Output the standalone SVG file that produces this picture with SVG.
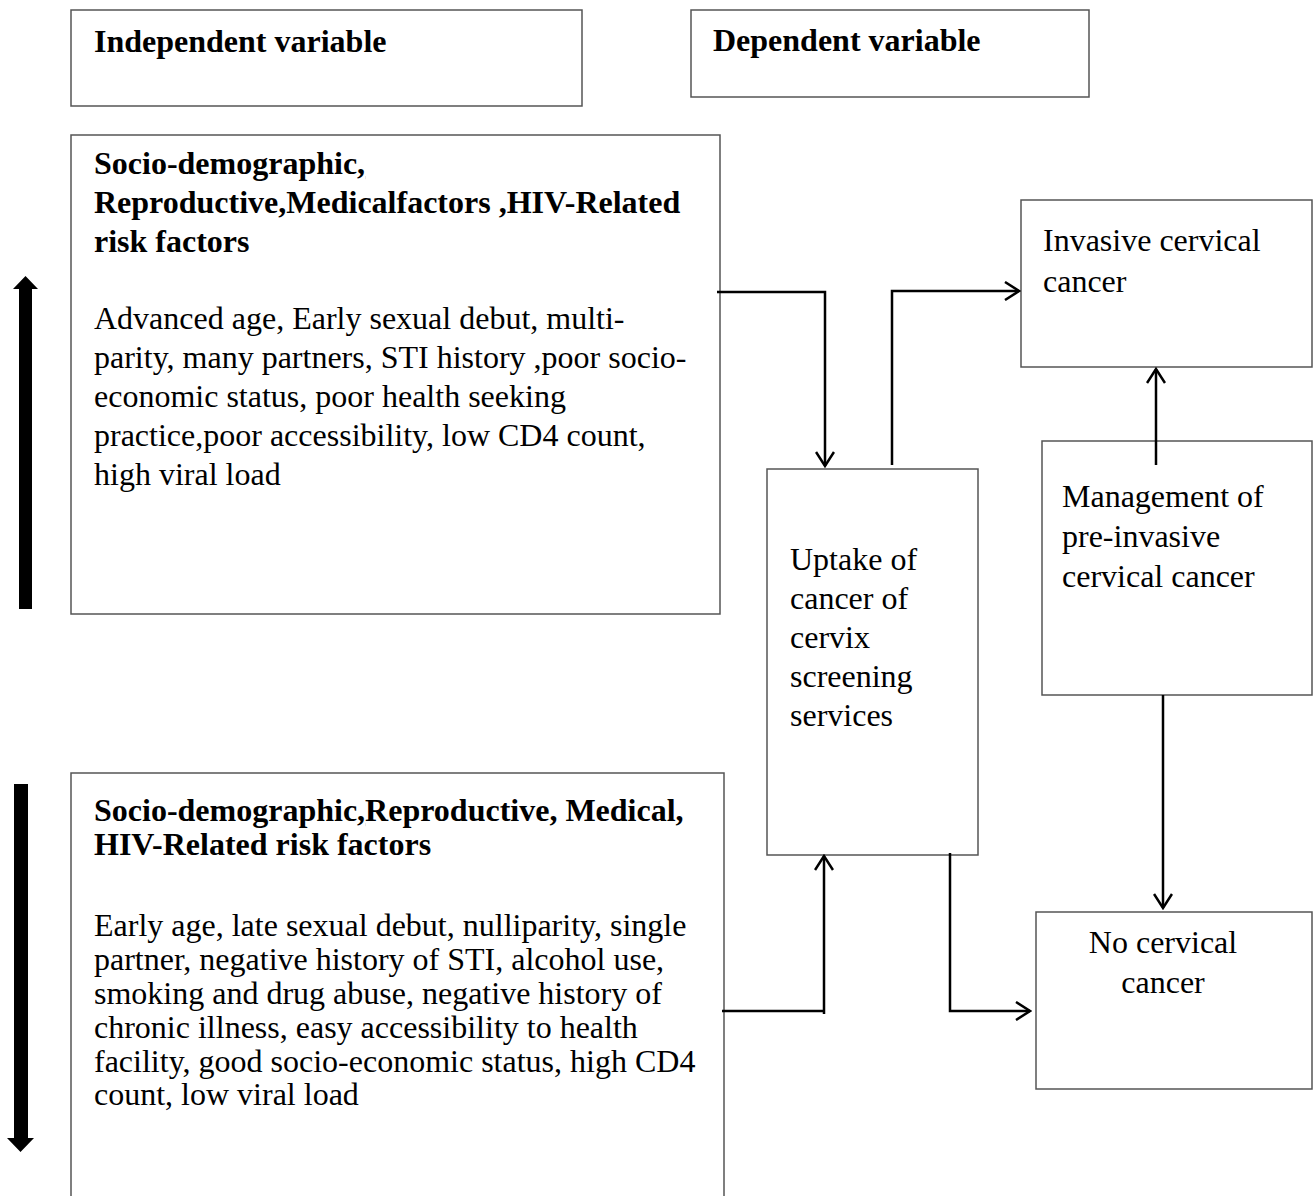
<svg xmlns="http://www.w3.org/2000/svg" width="1314" height="1196" viewBox="0 0 1314 1196">
<style>
.box{fill:#fff;stroke:#555;stroke-width:1.5}
text{font-family:"Liberation Serif","Times New Roman",serif;font-size:32px;fill:#000}
.b{font-weight:bold}
.c{fill:none;stroke:#000;stroke-width:2.5}
.u{text-decoration:underline}
</style>
<defs>
<marker id="ah" viewBox="0 0 20 20" refX="18" refY="10" markerWidth="20" markerHeight="20" markerUnits="userSpaceOnUse" orient="auto">
<path d="M4,1 L18,10 L4,19" fill="none" stroke="#000" stroke-width="2.5"/>
</marker>
</defs>
<g id="n-indep"><rect class="box" x="71" y="10" width="511" height="96"/><text class="b" x="94" y="52">Independent variable</text></g>
<g id="n-dep"><rect class="box" x="691" y="10" width="398" height="87"/><text class="b" x="713" y="51">Dependent variable</text></g>
<g id="n-risk1"><rect class="box" x="71" y="135" width="649" height="479"/>
<text class="b" x="94" y="174">Socio-demographic<tspan class="u">,</tspan></text>
<text class="b" x="94" y="213">Reproductive,Medicalfactors ,HIV-Related</text>
<text class="b" x="94" y="252">risk factors</text>
<text x="94" y="329">Advanced age, Early sexual debut, multi-</text>
<text x="94" y="368">parity, many partners, STI history ,poor socio-</text>
<text x="94" y="407">economic status, poor health seeking</text>
<text x="94" y="446">practice,poor accessibility, low CD4 count,</text>
<text x="94" y="485">high viral load</text>
</g>
<g id="n-risk2"><rect class="box" x="71" y="773" width="653" height="440"/>
<text class="b" x="94" y="821">Socio-demographic<tspan class="u">,</tspan>Reproductive, Medical<tspan class="u">,</tspan></text>
<text class="b" x="94" y="855">HIV-Related risk factors</text>
<text x="94" y="936">Early age, late sexual debut, nulliparity, single</text>
<text x="94" y="970">partner, negative history of STI, alcohol use,</text>
<text x="94" y="1004">smoking and drug abuse, negative history of</text>
<text x="94" y="1038">chronic illness, easy accessibility to health</text>
<text x="94" y="1072">facility, good socio-economic status, high CD4</text>
<text x="94" y="1105">count, low viral load</text>
</g>
<g id="n-uptake"><rect class="box" x="767" y="469" width="211" height="386"/>
<text x="790" y="570">Uptake of</text>
<text x="790" y="609">cancer of</text>
<text x="790" y="648">cervix</text>
<text x="790" y="687">screening</text>
<text x="790" y="726">services</text>
</g>
<g id="n-invasive"><rect class="box" x="1021" y="200" width="291" height="167"/>
<text x="1043" y="251">Invasive cervical</text>
<text x="1043" y="292">cancer</text>
</g>
<g id="n-mgmt"><rect class="box" x="1042" y="441" width="270" height="254"/>
<text x="1062" y="507">Management of</text>
<text x="1062" y="547">pre-invasive</text>
<text x="1062" y="587">cervical cancer</text>
</g>
<g id="n-nocancer"><rect class="box" x="1036" y="912" width="276" height="177"/>
<text x="1163" y="953" text-anchor="middle">No cervical</text>
<text x="1163" y="993" text-anchor="middle">cancer</text>
</g>
<g id="connectors">
<path class="c" d="M717,292 H825 V466" marker-end="url(#ah)"/>
<path class="c" d="M892,465 V291 H1019" marker-end="url(#ah)"/>
<path class="c" d="M1156,465 V369" marker-end="url(#ah)"/>
<path class="c" d="M1163,695 V908" marker-end="url(#ah)"/>
<path class="c" d="M722,1011 H824 M824,1014 V856" marker-end="url(#ah)"/>
<path class="c" d="M950,853 V1011 H1030" marker-end="url(#ah)"/>
<polygon points="19,609 32,609 32,289 38,289 25.5,276 13,289 19,289" fill="#000"/>
<polygon points="14,784 28,784 28,1138 34,1138 20.5,1152 7,1138 14,1138" fill="#000"/>
</g>
</svg>
